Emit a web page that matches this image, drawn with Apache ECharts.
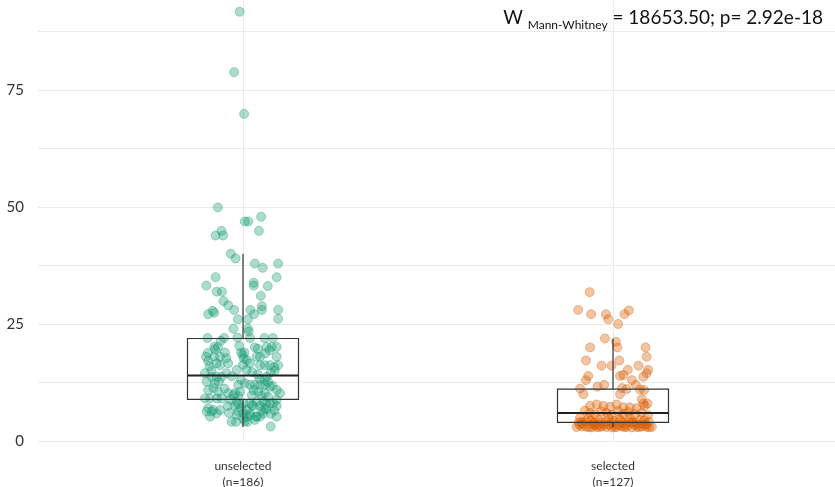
<!DOCTYPE html>
<html>
<head>
<meta charset="utf-8">
<script src="https://cdn.jsdelivr.net/npm/echarts@6/dist/echarts.min.js"></script>
<style>html,body{margin:0;padding:0;background:#fff}#c{width:835px;height:487px}</style>
</head>
<body>
<div id="c"></div>
<script>
// ---- data ----
var categories = ['unselected', 'selected'];
var counts = [186, 127];
var yTickLabels = [0, 25, 50, 75];
// boxplot stats: [position, min, Q1, median, Q3, max]
var boxStats = [
  [1, 3.0, 8.9, 14.0, 21.9, 40.0],
  [2, 3.0, 4.0, 6.0, 11.1, 21.8]
];
// jittered points [x (category position + jitter), value]
var unselectedPoints = [
  [0.991,91.7],[0.976,78.8],[1.003,69.9],[0.932,49.9],[1.049,47.9],[1.005,46.9],[1.014,46.9],
  [0.942,44.9],[0.926,43.9],[0.946,43.9],[1.043,44.9],[0.967,40.0],[0.980,39.0],[1.032,37.9],
  [1.053,37.0],[1.095,37.9],[0.926,35.0],[1.091,35.0],[0.901,33.2],[1.029,33.8],[1.029,33.2],
  [1.067,33.1],[0.929,31.9],[0.943,31.9],[1.048,31.0],[0.947,29.9],[0.960,29.0],[0.976,28.0],
  [0.918,27.8],[0.922,27.4],[0.906,27.1],[1.020,28.0],[1.051,28.8],[1.051,28.0],[1.095,28.0],
  [1.030,27.1],[0.986,26.0],[1.013,26.0],[1.095,26.1],[0.974,24.0],[1.013,24.0],[1.015,23.4],
  [0.904,22.0],[0.949,22.0],[0.940,21.4],[1.019,22.0],[1.058,22.0],[1.081,22.0],[0.922,20.1],
  [0.932,20.1],[1.064,20.1],[1.078,20.1],[1.091,20.1],[1.032,20.0],[0.951,18.9],[0.995,18.9],
  [1.004,18.9],[0.999,18.4],[0.900,18.0],[0.922,18.0],[0.938,18.0],[1.037,18.0],[1.046,18.0],
  [1.091,18.0],[0.906,17.1],[0.929,16.6],[0.938,16.2],[1.010,17.3],[1.019,16.6],[1.046,16.2],
  [1.059,16.2],[1.073,16.2],[1.095,16.2],[0.983,15.2],[1.010,15.2],[1.086,15.0],[0.897,14.5],
  [0.915,13.7],[0.929,13.7],[0.942,13.7],[1.064,13.7],[1.059,13.0],[0.902,12.7],[0.924,12.3],
  [1.005,12.3],[1.019,12.0],[1.032,12.0],[1.046,12.0],[1.059,12.0],[1.073,11.6],[1.091,10.9],
  [1.100,10.2],[0.906,10.9],[0.920,11.3],[0.933,10.5],[0.960,10.2],[0.978,10.2],[0.992,10.5],
  [1.028,10.9],[1.041,10.5],[1.059,10.2],[0.897,9.1],[0.911,9.1],[0.929,9.1],[0.942,9.1],
  [0.965,8.8],[0.983,8.4],[1.001,8.0],[1.019,8.0],[1.037,8.4],[1.055,8.4],[1.073,8.0],
  [1.091,8.8],[0.906,7.0],[0.920,6.6],[0.938,6.6],[0.959,7.5],[0.978,7.5],[0.996,7.0],
  [1.010,6.6],[1.028,7.5],[1.046,7.5],[1.059,7.0],[1.091,7.5],[0.902,6.3],[0.915,6.3],
  [0.929,5.9],[0.911,5.2],[0.987,6.3],[1.001,5.9],[1.010,5.2],[1.019,5.9],[1.037,5.2],
  [1.055,5.9],[1.064,6.8],[1.091,5.2],[0.969,4.1],[0.981,4.1],[1.012,4.1],[1.035,5.2],
  [1.046,5.2],[1.075,3.1],[0.983,5.5],[1.001,4.8],[1.019,5.5],
  [0.987,12.0],[1.068,12.6],[0.974,9.8],[0.987,9.6],[1.024,9.8],[1.050,9.7],[1.068,9.4],
  [0.987,7.9],[1.025,7.7],[1.062,7.9],[1.082,8.1],[0.962,6.0],[1.050,6.4],[1.075,5.8],
  [1.085,6.5],[1.005,4.2],[1.032,4.5],[0.985,22.1],[0.925,19.6],[0.990,20.3],[1.040,19.7],
  [1.072,19.4],[0.905,18.8],[0.955,17.7],[1.002,17.6],[1.060,18.7],[0.910,16.0],[0.960,16.6],
  [1.000,16.3],[1.085,15.8],[0.915,15.0],[0.955,14.5],[0.970,13.8],[1.025,14.7],[1.040,14.2],
  [1.075,14.6],[0.950,11.2],[1.080,11.8],[0.935,12.7],[1.045,13.3],[0.995,13.1]
];
var selectedPoints = [
  [1.937,31.8],[1.906,28.0],[1.941,27.1],[1.981,27.1],[1.987,26.0],[2.031,27.1],[2.043,27.9],
  [2.014,25.0],[1.978,21.9],[2.008,21.2],[2.012,20.0],[1.938,20.0],[2.088,20.0],[2.091,18.0],
  [1.927,17.2],[2.017,17.2],[1.969,16.1],[1.996,16.1],[2.069,16.1],[2.040,15.2],[2.028,14.1],
  [2.019,13.9],[2.095,15.2],[2.091,14.5],[2.082,13.7],[1.933,13.9],[1.927,13.0],[2.051,13.0],
  [2.062,12.0],[1.911,11.2],[1.920,10.0],[1.958,11.6],[1.976,12.0],[2.024,11.3],[2.037,11.1],
  [2.019,10.0],[2.073,11.0],[2.084,10.9],[2.078,8.9],[2.093,8.0],[2.082,8.0],
  [1.938,7.5],[1.956,7.8],[1.974,7.5],[1.992,7.3],[2.010,7.8],[2.028,7.2],[2.046,7.2],
  [2.064,7.0],[2.086,7.5],
  [1.924,6.5],[1.938,6.0],[1.951,5.7],[1.969,6.3],[1.983,6.0],[1.996,5.6],[2.014,6.4],
  [2.028,5.8],[2.041,6.2],[2.059,5.7],[2.077,6.0],[2.095,5.5],
  [1.911,5.0],[1.933,4.8],[1.960,4.6],[1.987,5.0],[2.019,4.7],[2.046,4.9],[2.073,4.5],
  [1.908,4.0],[1.926,4.2],[1.949,3.9],[1.967,4.1],[1.980,4.0],[2.002,4.3],[2.025,3.9],
  [2.043,4.1],[2.056,4.0],[2.079,3.8],[2.097,4.1],
  [1.902,3.0],[1.916,3.1],[1.929,3.0],[1.943,2.9],[1.956,3.0],[1.970,3.1],[1.983,3.0],
  [1.997,2.9],[2.010,3.0],[2.024,3.1],[2.037,3.0],[2.051,2.9],[2.064,3.0],[2.078,3.1],
  [2.091,3.0],[2.105,3.0],
  [1.909,3.5],[1.936,3.0],[1.950,3.4],[1.963,3.0],[1.990,3.5],[2.004,3.0],[2.017,3.4],
  [2.031,3.0],[2.058,3.5],[2.071,3.0],[2.085,3.4],[2.098,3.0],
  [1.920,3.5],[1.945,3.6],[1.975,3.5],[2.000,3.6],[2.035,3.5],[2.066,3.6],[2.090,3.5],[1.960,3.6],
  [1.915,4.0],[1.940,4.4],[1.995,4.0],[2.020,4.4],[2.050,4.0],[2.085,4.4]
];

// ---- chart ----
var chart = echarts.init(document.getElementById('c'));
var FONT = 'Lato, "Noto Sans", sans-serif';

function boxRender(params, api) {
  var x = api.value(0);
  var vMin = api.value(1), q1 = api.value(2), med = api.value(3), q3 = api.value(4), vMax = api.value(5);
  var halfW = api.size([0.15, 0])[0];
  var pMin = api.coord([x, vMin]), pQ1 = api.coord([x, q1]), pMed = api.coord([x, med]);
  var pQ3 = api.coord([x, q3]), pMax = api.coord([x, vMax]);
  var stroke = { stroke: '#333', lineWidth: 1.2, fill: null };
  return {
    type: 'group',
    children: [
      { type: 'line', shape: { x1: pMax[0], y1: pMax[1], x2: pQ3[0], y2: pQ3[1] }, style: stroke },
      { type: 'line', shape: { x1: pQ1[0], y1: pQ1[1], x2: pMin[0], y2: pMin[1] }, style: stroke },
      { type: 'rect', shape: { x: pQ3[0] - halfW, y: pQ3[1], width: 2 * halfW, height: pQ1[1] - pQ3[1] },
        style: { stroke: '#333', lineWidth: 1.2, fill: 'rgba(0,0,0,0)' } },
      { type: 'line', shape: { x1: pMed[0] - halfW, y1: pMed[1], x2: pMed[0] + halfW, y2: pMed[1] },
        style: { stroke: '#222', lineWidth: 2 } }
    ]
  };
}

chart.setOption({
  animation: false,
  backgroundColor: '#fff',
  title: {
    text: '{w|W }{s|Mann-Whitney}{m| = 18653.50; p= 2.92e-18}',
    right: 7, top: 0,
    textStyle: {
      fontWeight: 'normal',
      rich: {
        w: { fontFamily: FONT, fontSize: 19, fontWeight: 'normal', color: '#111', lineHeight: 26, verticalAlign: 'middle' },
        s: { fontFamily: FONT, fontSize: 12, fontWeight: 'normal', color: '#111', lineHeight: 26, verticalAlign: 'bottom' },
        m: { fontFamily: FONT, fontSize: 19, fontWeight: 'normal', color: '#111', lineHeight: 26, verticalAlign: 'middle' }
      }
    }
  },
  grid: { left: 21, right: 0, top: 1, bottom: 46, containLabel: false, outerBoundsMode: 'none' },
  xAxis: {
    type: 'value', min: 0.4, max: 2.6, interval: 0.2,
    axisLine: { show: false }, axisTick: { show: false }, splitLine: { show: false },
    axisLabel: {
      margin: 17, fontFamily: FONT, fontSize: 12, color: '#333', lineHeight: 16,
      showMinLabel: true, showMaxLabel: true,
      formatter: function (v) {
        for (var i = 0; i < categories.length; i++) {
          if (Math.abs(v - (i + 1)) < 1e-6) return categories[i] + '\n(n=' + counts[i] + ')';
        }
        return '';
      }
    }
  },
  yAxis: {
    type: 'value', min: 0, max: 94, interval: 12.5,
    axisLine: { show: false }, axisTick: { show: false },
    splitLine: { show: true, showMaxLine: false, lineStyle: { color: '#ebebeb', width: 1 } },
    axisLabel: {
      margin: -17, fontFamily: FONT, fontSize: 15, color: '#333',
      backgroundColor: '#fff', padding: [3, 14, 3, 4],
      showMaxLabel: false,
      formatter: function (v) {
        return yTickLabels.indexOf(v) >= 0 ? String(v) : '';
      }
    }
  },
  series: [
    {
      type: 'scatter', name: categories[0], data: unselectedPoints, symbolSize: 9, z: 3,
      itemStyle: { color: 'rgba(27,158,119,0.45)', borderColor: 'rgba(27,158,119,0.6)', borderWidth: 0.8 },
      markLine: {
        silent: true, symbol: 'none', z: 1, label: { show: false },
        lineStyle: { color: '#ebebeb', width: 1, type: 'solid' },
        data: [{ xAxis: 1 }, { xAxis: 2 }]
      }
    },
    {
      type: 'scatter', name: categories[1], data: selectedPoints, symbolSize: 9, z: 3,
      itemStyle: { color: 'rgba(217,95,2,0.45)', borderColor: 'rgba(217,95,2,0.6)', borderWidth: 0.8 }
    },
    {
      type: 'custom', name: 'box', data: boxStats, z: 4,
      encode: { x: 0, y: [1, 2, 3, 4, 5] },
      renderItem: boxRender
    }
  ]
});
</script>
</body>
</html>
